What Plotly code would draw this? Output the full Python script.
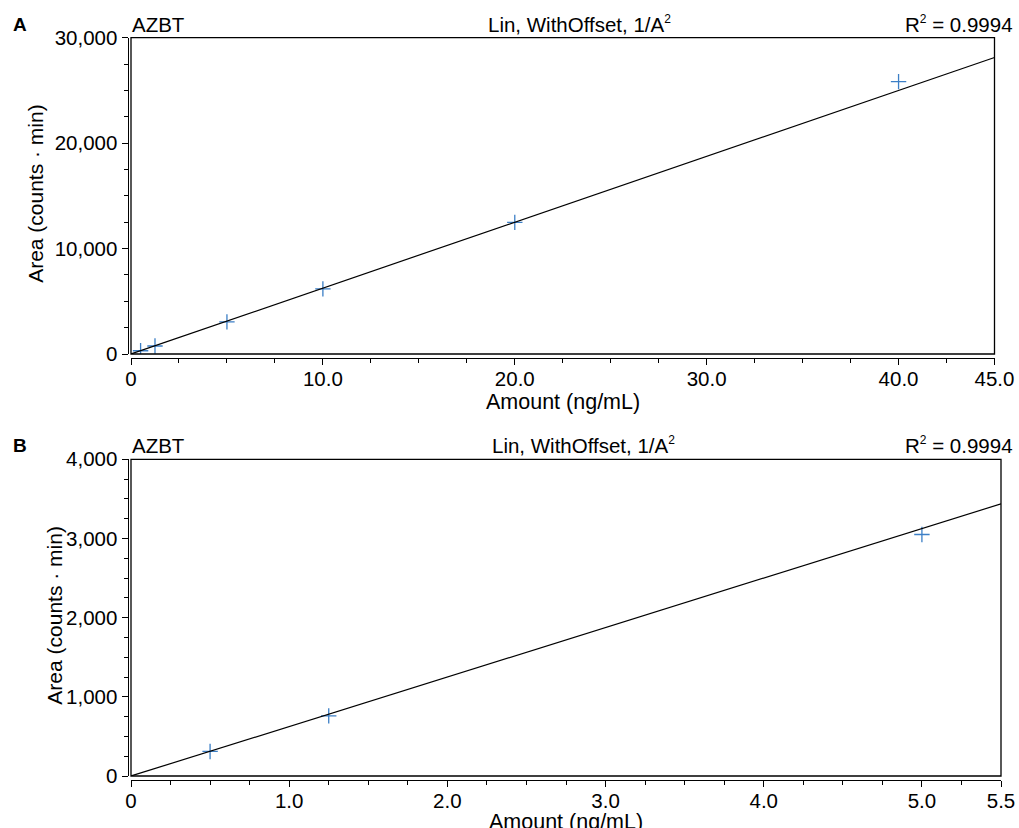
import plotly.graph_objects as go

# ---- data ----
amount_top = [0.5, 1.25, 5.0, 10.0, 20.0, 40.0]
area_top = [310, 760, 3050, 6180, 12480, 25830]
amount_bot = [0.5, 1.25, 5.0]
area_bot = [310, 760, 3050]
fit_slope = 625.0
fit_intercept = 0.0

x_top_ticks = [0, 10, 20, 30, 40, 45]
x_top_text = ["0", "10.0", "20.0", "30.0", "40.0", "45.0"]
y_top_ticks = [0, 10000, 20000, 30000]
y_top_text = ["0", "10,000", "20,000", "30,000"]
x_bot_ticks = [0, 1, 2, 3, 4, 5, 5.5]
x_bot_text = ["0", "1.0", "2.0", "3.0", "4.0", "5.0", "5.5"]
y_bot_ticks = [0, 1000, 2000, 3000, 4000]
y_bot_text = ["0", "1,000", "2,000", "3,000", "4,000"]

compound = "AZBT"
fit_label = "Lin, WithOffset, 1/A<sup><span style='font-size:12px'>2</span></sup>"
r2_label = "R<sup><span style='font-size:12px'>2</span></sup> = 0.9994"
x_title = "Amount (ng/mL)"
y_title = "Area (counts · min)"

# body margin is removed, so figure pixels equal window pixels
W, H = 1019, 828
FONT = "Liberation Sans, Arial, Helvetica, sans-serif"
BLUE = "#3c7fc6"


def px(x):
    return x / W


def py(y):
    return 1 - y / H


fig = go.Figure()

# points
for xs, ys, xa, ya in ((amount_top, area_top, "x", "y"), (amount_bot, area_bot, "x2", "y2")):
    fig.add_trace(go.Scatter(x=xs, y=ys, mode="markers", xaxis=xa, yaxis=ya,
                             marker=dict(symbol="cross-thin", size=11,
                                         line=dict(color=BLUE, width=1.3)),
                             showlegend=False))
# fit lines
for xr, xa, ya in (([0, 45], "x", "y"), ([0, 5.5], "x2", "y2")):
    fig.add_trace(go.Scatter(x=xr, y=[fit_slope * v + fit_intercept for v in xr], mode="lines",
                             xaxis=xa, yaxis=ya, line=dict(color="black", width=1.2),
                             showlegend=False))

# panel geometry (window pixels)
top_box = (131, 994.5, 37.7, 354)
bot_box = (131, 1001, 459.3, 776)

tickfont = dict(family=FONT, size=20.5, color="black")


def xaxis_cfg(box, rng, tv, tt, minor_dt):
    x0, x1, y0, y1 = box
    return dict(domain=[px(x0), px(x1)], range=rng, anchor="free", position=py(y1 + 4),
                automargin=False, ticklabelstandoff=-4,
                showline=True, linecolor="black", linewidth=1, ticks="outside", ticklen=6,
                tickcolor="black", tickwidth=1, tickvals=tv, ticktext=tt, tickfont=tickfont,
                showgrid=False, zeroline=False,
                minor=dict(dtick=minor_dt, tick0=0, ticks="outside", ticklen=4, tickcolor="black",
                           tickwidth=1, showgrid=False))


def yaxis_cfg(box, rng, tv, tt, minor_dt):
    x0, x1, y0, y1 = box
    return dict(domain=[py(y1), py(y0)], range=rng, anchor="free", position=px(x0 - 3.5),
                automargin=False,
                showline=True, linecolor="black", linewidth=1, ticks="outside", ticklen=6,
                tickcolor="black", tickwidth=1, tickvals=tv, ticktext=tt, tickfont=tickfont,
                showgrid=False, zeroline=False,
                minor=dict(dtick=minor_dt, tick0=0, ticks="outside", ticklen=4, tickcolor="black",
                           tickwidth=1, showgrid=False))


fig.update_layout(
    width=W, height=H,
    margin=dict(l=0, r=0, t=0, b=0, autoexpand=False),
    paper_bgcolor="white", plot_bgcolor="white",
    font=dict(family=FONT, size=20.5, color="black"),
    xaxis=xaxis_cfg(top_box, [0, 45], x_top_ticks, x_top_text, 2.5),
    yaxis=yaxis_cfg(top_box, [0, 30000], y_top_ticks, y_top_text, 2500),
    xaxis2=xaxis_cfg(bot_box, [0, 5.5], x_bot_ticks, x_bot_text, 0.25),
    yaxis2=yaxis_cfg(bot_box, [0, 4000], y_bot_ticks, y_bot_text, 250),
)

# plot boxes
for xr, yr in (("x", "y"), ("x2", "y2")):
    fig.add_shape(type="rect", xref=f"{xr} domain", yref=f"{yr} domain", x0=0, x1=1, y0=0, y1=1,
                  line=dict(color="black", width=1.3), layer="above")


def ann(text, x, y, xanchor="center", size=20.5, bold=False, angle=0):
    fig.add_annotation(text=f"<b>{text}</b>" if bold else text, x=px(x), y=py(y),
                       xref="paper", yref="paper", xanchor=xanchor, yanchor="middle",
                       showarrow=False, textangle=angle,
                       font=dict(family=FONT, size=size, color="black"))


for box, label, ytext, ytitle_x in ((top_box, "A", 23, 36), (bot_box, "B", 444, 55)):
    ann(label, 11, ytext + 1, xanchor="left", size=19, bold=True)
    ann(compound, 130, ytext + 1, xanchor="left")
    ann(fit_label, (box[0] + box[1]) / 2 + 17, ytext + 1)
    ann(r2_label, 1015, ytext + 1, xanchor="right")
    ann(y_title, ytitle_x, (box[2] + box[3]) / 2 - 2, angle=-90, size=21)

ann(x_title, (top_box[0] + top_box[1]) / 2, 402, size=21.5)
ann(x_title, (bot_box[0] + bot_box[1]) / 2, 822, size=21.5)

fig.write_html("out.html",
               config={"displayModeBar": False},
               post_script="document.body.style.margin='0';"
                           "document.documentElement.style.overflow='hidden';"
                           "document.body.style.overflow='hidden';")
